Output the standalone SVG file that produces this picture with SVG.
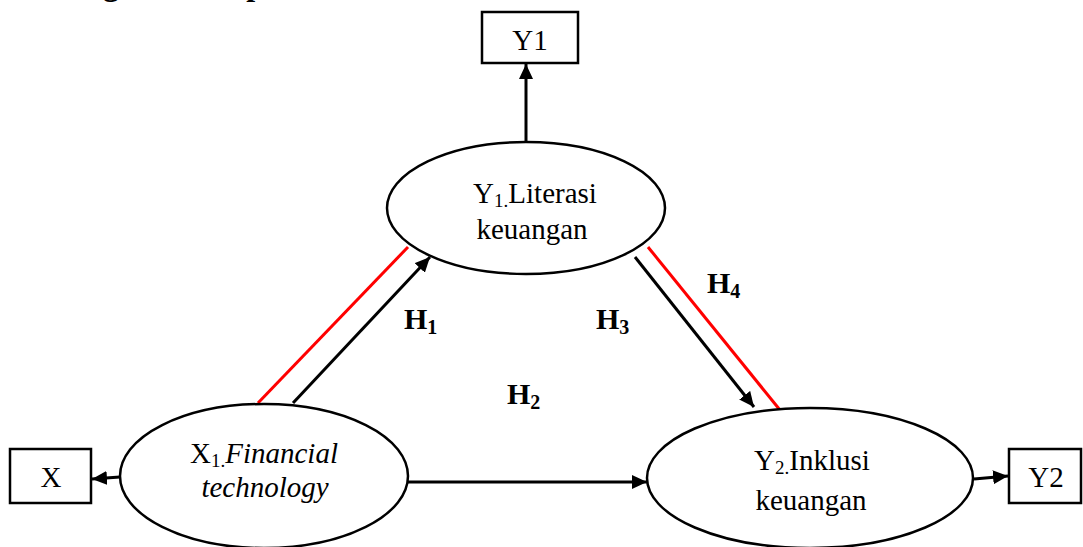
<svg xmlns="http://www.w3.org/2000/svg" width="1083" height="547" viewBox="0 0 1083 547">
<style>
.node{fill:#fff;stroke:#000;stroke-width:2.5}
.lbl{font-family:"Liberation Serif","Times New Roman",serif;font-size:29px;fill:#000}
.h{font-family:"Liberation Serif","Times New Roman",serif;font-size:30px;font-weight:bold;fill:#000}
.con{stroke:#000;stroke-width:3;fill:none}
.red{stroke:#ff0000;stroke-width:3;fill:none}
</style>
<defs>
<marker id="arr" markerUnits="userSpaceOnUse" markerWidth="16" markerHeight="14" refX="15" refY="7" orient="auto">
<path d="M0,0 L15,7 L0,14 z" fill="#000"/>
</marker>
</defs>
<rect width="1083" height="547" fill="#fff"/>
<text x="16" y="-5.5" style="font-family:'Liberation Serif','Times New Roman',serif;font-size:32px;font-weight:bold">Kerangka Konseptual</text>

<g id="connectors">
<line class="con" x1="526" y1="142" x2="526" y2="64" marker-end="url(#arr)"/>
<line class="con" x1="120" y1="477" x2="92" y2="479" marker-end="url(#arr)"/>
<line class="con" x1="408" y1="482" x2="647" y2="482" marker-end="url(#arr)"/>
<line class="con" x1="974" y1="479" x2="1008" y2="476" marker-end="url(#arr)"/>
<line class="con" x1="293" y1="403" x2="430" y2="257" marker-end="url(#arr)"/>
<line class="red" x1="258" y1="403" x2="408" y2="247"/>
<line class="con" x1="635" y1="257" x2="754" y2="407" marker-end="url(#arr)"/>
<line class="red" x1="648" y1="247" x2="780" y2="410"/>
</g>

<g id="box-Y1">
<rect class="node" x="482" y="12" width="96" height="51"/>
<text class="lbl" x="530" y="50" text-anchor="middle">Y1</text>
</g>
<g id="box-X">
<rect class="node" x="10" y="449" width="81" height="54"/>
<text class="lbl" x="51" y="487" text-anchor="middle">X</text>
</g>
<g id="box-Y2">
<rect class="node" x="1009" y="449" width="72" height="54"/>
<text class="lbl" x="1046" y="487" text-anchor="middle">Y2</text>
</g>

<g id="node-Y1">
<ellipse class="node" cx="526" cy="208" rx="139" ry="66"/>
<text class="lbl" x="535" y="203" text-anchor="middle">Y<tspan font-size="19" dy="4">1.</tspan><tspan dy="-4">Literasi</tspan></text>
<text class="lbl" x="532" y="239" text-anchor="middle">keuangan</text>
</g>
<g id="node-X1">
<ellipse class="node" cx="264" cy="476" rx="144" ry="72"/>
<text class="lbl" x="264" y="463" text-anchor="middle">X<tspan font-size="19" dy="4">1.</tspan><tspan dy="-4" font-style="italic">Financial</tspan></text>
<text class="lbl" x="265" y="497" text-anchor="middle" font-style="italic">technology</text>
</g>
<g id="node-Y2">
<ellipse class="node" cx="810" cy="478" rx="163" ry="70"/>
<text class="lbl" x="812" y="470" text-anchor="middle">Y<tspan font-size="19" dy="4">2.</tspan><tspan dy="-4">Inklusi</tspan></text>
<text class="lbl" x="811" y="510" text-anchor="middle">keuangan</text>
</g>

<g id="labels">
<text class="h" x="404" y="329">H<tspan font-size="20" dy="5">1</tspan></text>
<text class="h" x="507" y="404">H<tspan font-size="20" dy="5">2</tspan></text>
<text class="h" x="596" y="329">H<tspan font-size="20" dy="5">3</tspan></text>
<text class="h" x="707" y="293">H<tspan font-size="20" dy="5">4</tspan></text>
</g>
</svg>
